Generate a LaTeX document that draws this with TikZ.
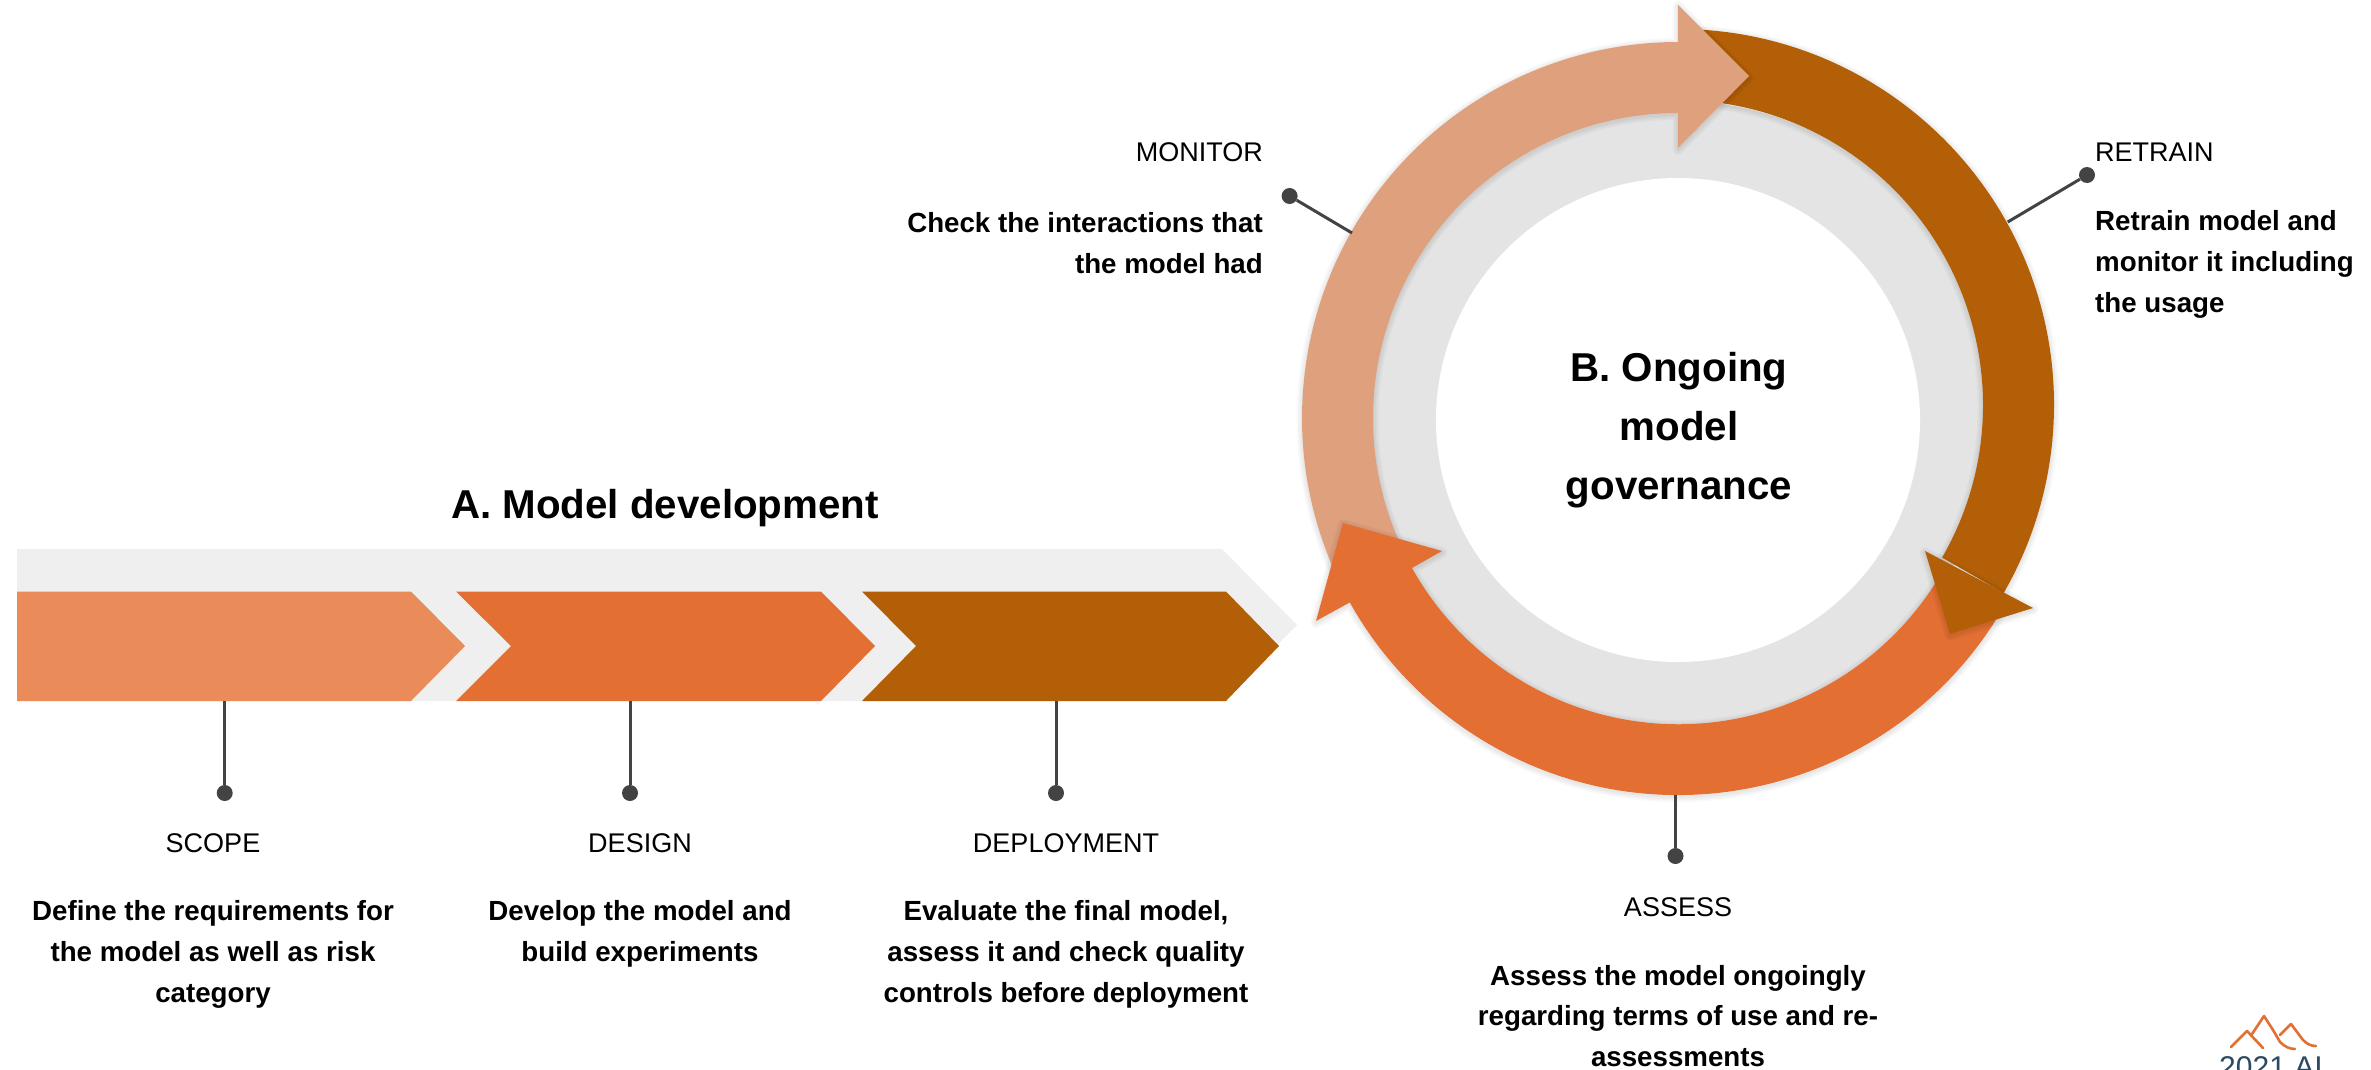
\documentclass[tikz,border=0pt]{standalone}
\usepackage{fontspec}
\setmainfont{Liberation Sans}
\definecolor{cPale}{HTML}{DFA07D}
\definecolor{cBrown}{HTML}{B35F07}
\definecolor{cOrange}{HTML}{E36F33}
\definecolor{cSalmon}{HTML}{E98C5A}
\definecolor{cRing}{HTML}{E4E4E4}
\definecolor{cBand}{HTML}{EFEFEF}
\definecolor{cLine}{HTML}{434343}
\definecolor{cNavy}{HTML}{2B4A60}
\newcommand{\softfill}[2]{%
  \foreach \w in {11,8,5,2}{\draw[black,opacity=.022,line width=\w pt,line join=round,yshift=-1.5pt] #1;}
  \fill[#2] #1;}
\tikzset{
  x=1pt,y=1pt,
  dotnode/.style={circle,fill=cLine,inner sep=0pt,minimum size=16pt},
  leader/.style={draw=cLine,line width=3pt},
  steplabel/.style={font=\fontsize{27}{36}\selectfont,text=black,inner sep=0pt},
  stepbody/.style={font=\fontsize{27.7}{40.8}\selectfont\bfseries,text=black,inner sep=0pt},
  headline/.style={font=\fontsize{40.3}{59}\selectfont\bfseries,text=black,inner sep=0pt,align=center},
  logoline/.style={draw=cOrange,line width=2.6pt,line cap=round,line join=round}
}
\begin{document}
\begin{tikzpicture}
\useasboundingbox (0,0) rectangle (2371,-1069);
% chevron band
\fill[cBand] (17,-549) -- (1222,-549) -- (1297,-625) -- (1222,-701) -- (17,-701) -- cycle;
\fill[cSalmon] (17,-591.5) -- (411,-591.5) -- (465,-646) -- (411,-701) -- (17,-701) -- cycle;
\fill[cOrange] (456,-591.5) -- (821,-591.5) -- (875,-646) -- (821,-701) -- (456,-701) -- (511,-646) -- cycle;
\fill[cBrown] (862,-591.5) -- (1226,-591.5) -- (1279,-646) -- (1226,-701) -- (862,-701) -- (916,-646) -- cycle;
% ring
\fill[cRing] (1678,-415) circle[radius=314];
\fill[white] (1678,-420) circle[radius=242];
% brown arc
\softfill{(1678,-405) ++(89:376) arc[start angle=89,end angle=-30,radius=376] -- (1678+264.1,-405-152.5) arc[start angle=-30,end angle=89,radius=305] -- cycle}{cBrown}
% pale arc with head
\softfill{(1678,-418) ++(205:376) arc[start angle=205,end angle=90,radius=376] -- (1678,-5) -- (1749,-76) -- (1678,-148) -- (1678,-113) arc[start angle=90,end angle=205,radius=305] -- cycle}{cPale}
% orange arc with head
\softfill{(1678,-419) ++(-31:376) arc[start angle=-31,end angle=-150.8,radius=376] -- (1316,-621) -- (1343,-523) -- (1442,-551) -- (1412,-568) arc[start angle=-150.8,end angle=-31,radius=305] -- cycle}{cOrange}
% brown head
\softfill{(1925,-551) -- (2033,-608) -- (1950,-634) -- cycle}{cBrown}
% anchors and dots
\coordinate (s1) at (224.7,-701);
\coordinate (s2) at (630,-701);
\coordinate (s3) at (1056,-701);
\coordinate (r1) at (1675.5,-795);
\coordinate (r2) at (2007.7,-222);
\coordinate (r3) at (1352,-233);
\node[dotnode] (d1) at (224.7,-793) {};
\node[dotnode] (d2) at (630,-793) {};
\node[dotnode] (d3) at (1056,-793) {};
\node[dotnode] (d4) at (1675.5,-856) {};
\node[dotnode] (d5) at (2087,-175) {};
\node[dotnode] (d6) at (1289.6,-196) {};
\draw[leader] (s1) -- (d1);
\draw[leader] (s2) -- (d2);
\draw[leader] (s3) -- (d3);
\draw[leader] (r1) -- (d4);
\draw[leader] (r2) -- (d5);
\draw[leader] (r3) -- (d6);
% headings
\node[headline] (ta) at (665,-508.5) {A. Model development};
\node[headline] (tb) at (1679,-430) {B. Ongoing\\model\\governance};
% labels
\node[steplabel] (l1) at (213,-843) {SCOPE};
\node[stepbody,align=center] (b1) at (213,-954.5) {Define the requirements for\\the model as well as risk\\category};
\node[steplabel] (l2) at (640,-843) {DESIGN};
\node[stepbody,align=center] (b2) at (640,-934) {Develop the model and\\build experiments};
\node[steplabel] (l3) at (1066,-843) {DEPLOYMENT};
\node[stepbody,align=center] (b3) at (1066,-954.5) {Evaluate the final model,\\assess it and check quality\\controls before deployment};
\node[steplabel] (l4) at (1678,-907) {ASSESS};
\node[stepbody,align=center] (b4) at (1678,-1016) {Assess the model ongoingly\\regarding terms of use and re-\\assessments};
\node[steplabel,anchor=east] (l5) at (1263,-152) {MONITOR};
\node[stepbody,align=right,anchor=east] (b5) at (1263,-243) {Check the interactions that\\the model had};
\node[steplabel,anchor=west] (l6) at (2095,-152) {RETRAIN};
\node[stepbody,align=left,anchor=west] (b6) at (2095,-264.5) {Retrain model and\\monitor it including\\the usage};
% logo
\draw[logoline] (2231,-1047) -- (2247,-1031) -- (2263,-1048);
\draw[logoline] (2252,-1034) -- (2264,-1016) -- (2273,-1030) -- (2280,-1042) .. controls (2285,-1047) and (2290,-1049) .. (2295,-1049);
\draw[logoline] (2280,-1035) -- (2291,-1024) -- (2303,-1040) .. controls (2307,-1044) and (2311,-1046) .. (2316,-1046);
\begin{scope}
\clip (0,0) rectangle (2371,-1069);
\node[font=\fontsize{30}{36}\selectfont,text=cNavy,inner sep=0pt,anchor=base west] (logo) at (2219,-1077) {2021.AI};
\end{scope}
\end{tikzpicture}
\end{document}
